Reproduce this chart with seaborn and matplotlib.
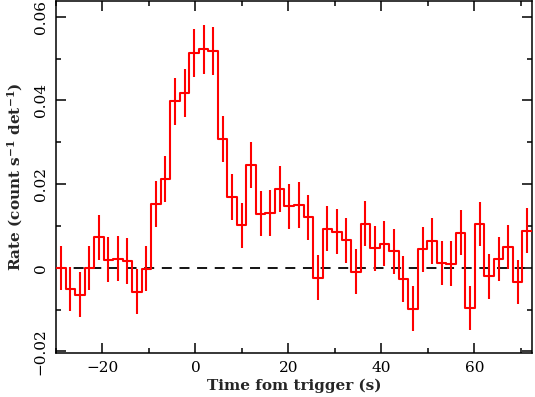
import numpy as np
import pandas as pd
import matplotlib
matplotlib.use('Agg')
import matplotlib.pyplot as plt
import seaborn as sns
from matplotlib.ticker import MultipleLocator, FuncFormatter

# light curve: 2.048 s bins starting at -30 s
bin_width = 2.048
t_start = -30.0

rate = [0.0000, -0.0051, -0.0065, 0.0000, 0.0073, 0.0019, 0.0022, 0.0016, -0.0057, -0.0002,
        0.0153, 0.0213, 0.0398, 0.0418, 0.0514, 0.0522, 0.0518, 0.0308, 0.0169, 0.0101,
        0.0245, 0.0129, 0.0131, 0.0189, 0.0147, 0.0149, 0.0121, -0.0024, 0.0093, 0.0086,
        0.0066, -0.0010, 0.0105, 0.0046, 0.0057, 0.0039, -0.0027, -0.0098, 0.0044, 0.0064,
        0.0011, 0.0010, 0.0084, -0.0097, 0.0104, -0.0021, 0.0021, 0.0050, -0.0034, 0.0089]

rate_err = [0.0053, 0.0053, 0.0054, 0.0053, 0.0054, 0.0054, 0.0054, 0.0054, 0.0053, 0.0054,
            0.0055, 0.0055, 0.0057, 0.0057, 0.0057, 0.0058, 0.0058, 0.0056, 0.0055, 0.0055,
            0.0055, 0.0054, 0.0054, 0.0055, 0.0054, 0.0055, 0.0054, 0.0054, 0.0054, 0.0054,
            0.0054, 0.0054, 0.0054, 0.0054, 0.0054, 0.0054, 0.0054, 0.0054, 0.0054, 0.0054,
            0.0053, 0.0053, 0.0054, 0.0053, 0.0053, 0.0053, 0.0053, 0.0053, 0.0053, 0.0053]

n_bins = len(rate)
edges = t_start + bin_width * np.arange(n_bins + 1)
centers = edges[:-1] + bin_width / 2

step_df = pd.DataFrame({'t': edges, 'rate': rate + [rate[-1]]})

sns.set_style('ticks')
plt.rcParams['font.family'] = ['DejaVu Serif']
plt.rcParams['mathtext.fontset'] = 'dejavuserif'
plt.rcParams['mathtext.default'] = 'bf'
plt.rcParams['lines.scale_dashes'] = False

fig = plt.figure(figsize=(5.35, 3.97), dpi=100)
ax = fig.add_axes([56 / 535, 44 / 397, 476 / 535, 352 / 397])

# zero level
ax.axhline(0, color='black', lw=1.3, dashes=(7.2, 5.5), zorder=1)

ax.errorbar(centers, rate, yerr=rate_err, fmt='none', ecolor='red',
            elinewidth=1.5, capsize=0, zorder=2)
sns.lineplot(data=step_df, x='t', y='rate', drawstyle='steps-post',
             color='red', lw=1.5, ax=ax, zorder=3)

ax.set_xlim(edges[0], edges[-1])
ax.set_ylim(-0.0204, 0.0638)

ax.xaxis.set_major_locator(MultipleLocator(20))
ax.xaxis.set_minor_locator(MultipleLocator(10))
ax.yaxis.set_major_locator(MultipleLocator(0.02))
ax.yaxis.set_minor_locator(MultipleLocator(0.01))
ax.yaxis.set_major_formatter(FuncFormatter(
    lambda v, p: '0' if abs(v) < 1e-9 else f'{v:.2f}'.replace('-', '\u2212')))
ax.tick_params(which='both', direction='in', top=True, right=True, width=1.1,
               labelsize=11, colors='black')
ax.tick_params(which='major', length=7, pad=6)
ax.tick_params(which='minor', length=3.5)
for lab in ax.get_yticklabels():
    lab.set_rotation(90)
    lab.set_va('center')

for s in ax.spines.values():
    s.set_linewidth(1.1)
    s.set_color('black')

ax.set_xlabel('Time fom trigger (s)', fontsize=11, fontweight='bold', labelpad=2)
ax.set_ylabel(r'Rate (count s$^{-1}$ det$^{-1}$)', fontsize=11, fontweight='bold',
              labelpad=6)

fig.savefig('out.png', dpi=100)
